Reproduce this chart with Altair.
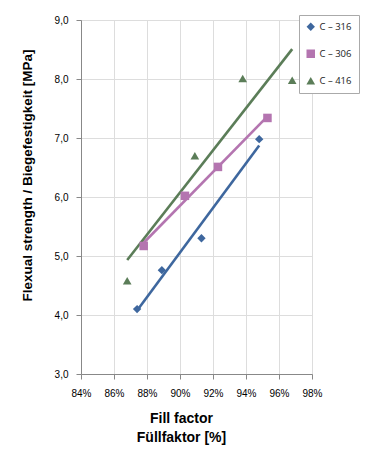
import altair as alt
import pandas as pd

series_names = ["C – 316", "C – 306", "C – 416"]
colors = ["#3E679E", "#B475B0", "#5B7D58"]
shapes = ["diamond", "square", "triangle-up"]

fill_316 = [87.4, 88.9, 91.3, 94.8]
str_316 = [4.10, 4.76, 5.30, 6.98]
fill_306 = [87.8, 90.3, 92.3, 95.3]
str_306 = [5.17, 6.02, 6.51, 7.34]
fill_416 = [86.8, 90.9, 93.8, 96.8]
str_416 = [4.58, 6.70, 8.01, 7.98]

x_ticks = [84, 86, 88, 90, 92, 94, 96, 98]
y_ticks = [3, 4, 5, 6, 7, 8, 9]

rows = []
for name, xs, ys in [(series_names[0], fill_316, str_316),
                     (series_names[1], fill_306, str_306),
                     (series_names[2], fill_416, str_416)]:
    for a, b in zip(xs, ys):
        rows.append({"series": name, "fill": a, "strength": b})
df = pd.DataFrame(rows)

FONT = "Open Sans"

xenc = alt.X("fill:Q", scale=alt.Scale(domain=[84, 98], nice=False, zero=False),
             axis=alt.Axis(values=x_ticks, labelExpr="datum.value + '%'",
                           labelFlush=False, labelOverlap=False,
                           title=["Fill factor", "Füllfaktor [%]"],
                           titleFontSize=14, titleFontWeight="bold",
                           titleX=100, titleY=37, titleBaseline="top",
                           titleLineHeight=19,
                           labelPadding=9, tickSize=5))
yenc = alt.Y("strength:Q", scale=alt.Scale(domain=[3, 9], nice=False, zero=False),
             axis=alt.Axis(values=y_ticks,
                           labelExpr="replace(format(datum.value, '.1f'), '.', ',')",
                           labelFlush=False, labelOverlap=False,
                           title="Flexual strength / Biegefestigkeit [MPa]",
                           titleFontSize=13.5, titleFontWeight="bold",
                           titleX=-54, titleY=155, titleBaseline="middle",
                           labelPadding=8, tickSize=5))

cscale = alt.Scale(domain=series_names, range=colors)
sscale = alt.Scale(domain=series_names, range=shapes)

leg = alt.Legend(title=None, orient="none", legendX=218, legendY=-5,
                 fillColor="white", strokeColor="#AAAAAA",
                 padding=7, rowPadding=16, labelFontSize=9.5,
                 symbolSize=60, labelFont=FONT, labelColor="#222",
                 symbolStrokeWidth=0)

base = alt.Chart(df)

lines = base.transform_regression(
    "fill", "strength", groupby=["series"]
).mark_line(strokeWidth=2.6).encode(
    x=xenc, y=yenc,
    color=alt.Color("series:N", scale=cscale, legend=leg),
)

points = base.mark_point(filled=True, opacity=1).encode(
    x=xenc, y=yenc,
    color=alt.Color("series:N", scale=cscale, legend=leg),
    shape=alt.Shape("series:N", scale=sscale, legend=leg),
    size=alt.Size("series:N", scale=alt.Scale(domain=series_names, range=[70, 75, 100]),
                  legend=None),
)

chart = alt.layer(lines, points).properties(
    width=231, height=354,
    autosize=alt.AutoSizeParams(type="none"),
    padding={"left": 73, "top": 12, "right": 59, "bottom": 71},
).configure_view(
    stroke=None
).configure_axis(
    labelFont=FONT, titleFont=FONT, labelFontSize=13, labelColor="#333",
    titleColor="#111", gridColor="#8F8F8F", gridWidth=0.8,
    domainColor="#666666", tickColor="#666666",
).configure(background="white")

chart.save("out.html", embed_options={"renderer": "svg", "actions": False})
